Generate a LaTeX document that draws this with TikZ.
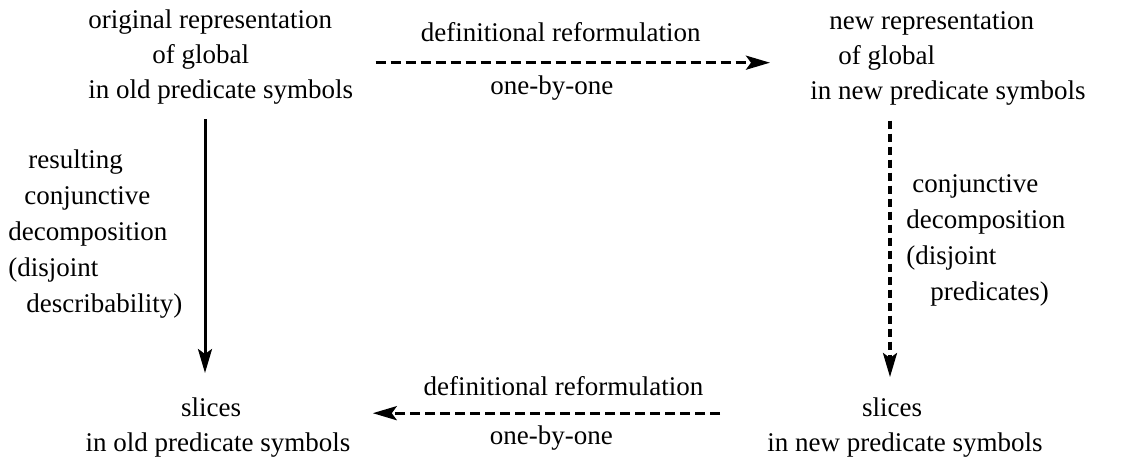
\documentclass[tikz,border=0pt]{standalone}
\usepackage{fontspec}
\setmainfont{Liberation Serif}
\usetikzlibrary{arrows.meta,calc,positioning}

\begin{document}
\begin{tikzpicture}[x=0.5pt,y=-0.5pt,>={Stealth[length=12pt,width=7pt,inset=2.5pt]},auto]
		\tikzstyle{block}=[inner sep=0pt, align=left, font=\rmfamily\fontsize{13.5}{17.5}\selectfont]
		\tikzstyle{side block}=[block, font=\rmfamily\fontsize{13.5}{18}\selectfont]
		\tikzstyle{arrowtext}=[inner sep=0pt, font=\rmfamily\fontsize{13.5}{17.5}\selectfont]
		\tikzstyle{solid arrow}=[->, line width=1.5pt]
		\tikzstyle{dash arrow}=[->, line width=1.6pt, dash pattern=on 5pt off 2.5pt]
		\tikzstyle{dash arrow ver}=[->, line width=1.6pt, dash pattern=on 4pt off 2.5pt]

		\useasboundingbox (0,0) rectangle (1125,462);

		\node [block, anchor=north west] (oldrep) at (88,9) {original representation\\\hspace*{32pt}of global\\in old predicate symbols};
		\node [block, anchor=north west] (newrep) at (810,11) {\hspace*{9.5pt}new representation\\\hspace*{14pt}of global\\in new predicate symbols};
		\node [block, align=center, anchor=north] (oldslice) at (218,397) {\hspace*{-7pt}slices\\in old predicate symbols};
		\node [block, align=center, anchor=north] (newslice) at (905,397) {\hspace*{-13pt}slices\\in new predicate symbols};
		\node [side block, anchor=north west] (olddec) at (8,149) {\hspace*{10pt}resulting\\\hspace*{8pt}conjunctive\\decomposition\\(disjoint\\\hspace*{9pt}describability)};
		\node [side block, anchor=north west] (newdec) at (906,174) {\hspace*{3pt}conjunctive\\decomposition\\(disjoint\\\hspace*{12pt}predicates)};

		% reformulation, old -> new
		\draw [dash arrow] ($(oldrep.east)+(22,6)$) -- ($(oldrep.east -| newrep.west)+(-40,6)$)
			node [arrowtext, midway, above=9.5pt, xshift=-6pt] {definitional reformulation}
			node [arrowtext, midway, below=5.5pt, xshift=-10.5pt] {one-by-one};
		% decompositions
		\draw [solid arrow] ($(oldrep.south west)+(117,15)$) -- ($(oldrep.south west |- oldslice.north)+(117,-24)$);
		\draw [dash arrow ver] ($(newrep.south west)+(80,15)$) -- ($(newrep.south west |- newslice.north)+(80,-20)$);
		% reformulation, new -> old
		\draw [dash arrow] ($(newslice.west)+(-47,-14)$) -- ($(newslice.west -| oldslice.east)+(22,-14)$)
			node [arrowtext, midway, above=8pt, xshift=8.5pt] {definitional reformulation}
			node [arrowtext, midway, below=5.5pt, xshift=2.5pt] {one-by-one};
	\end{tikzpicture}
\end{document}
